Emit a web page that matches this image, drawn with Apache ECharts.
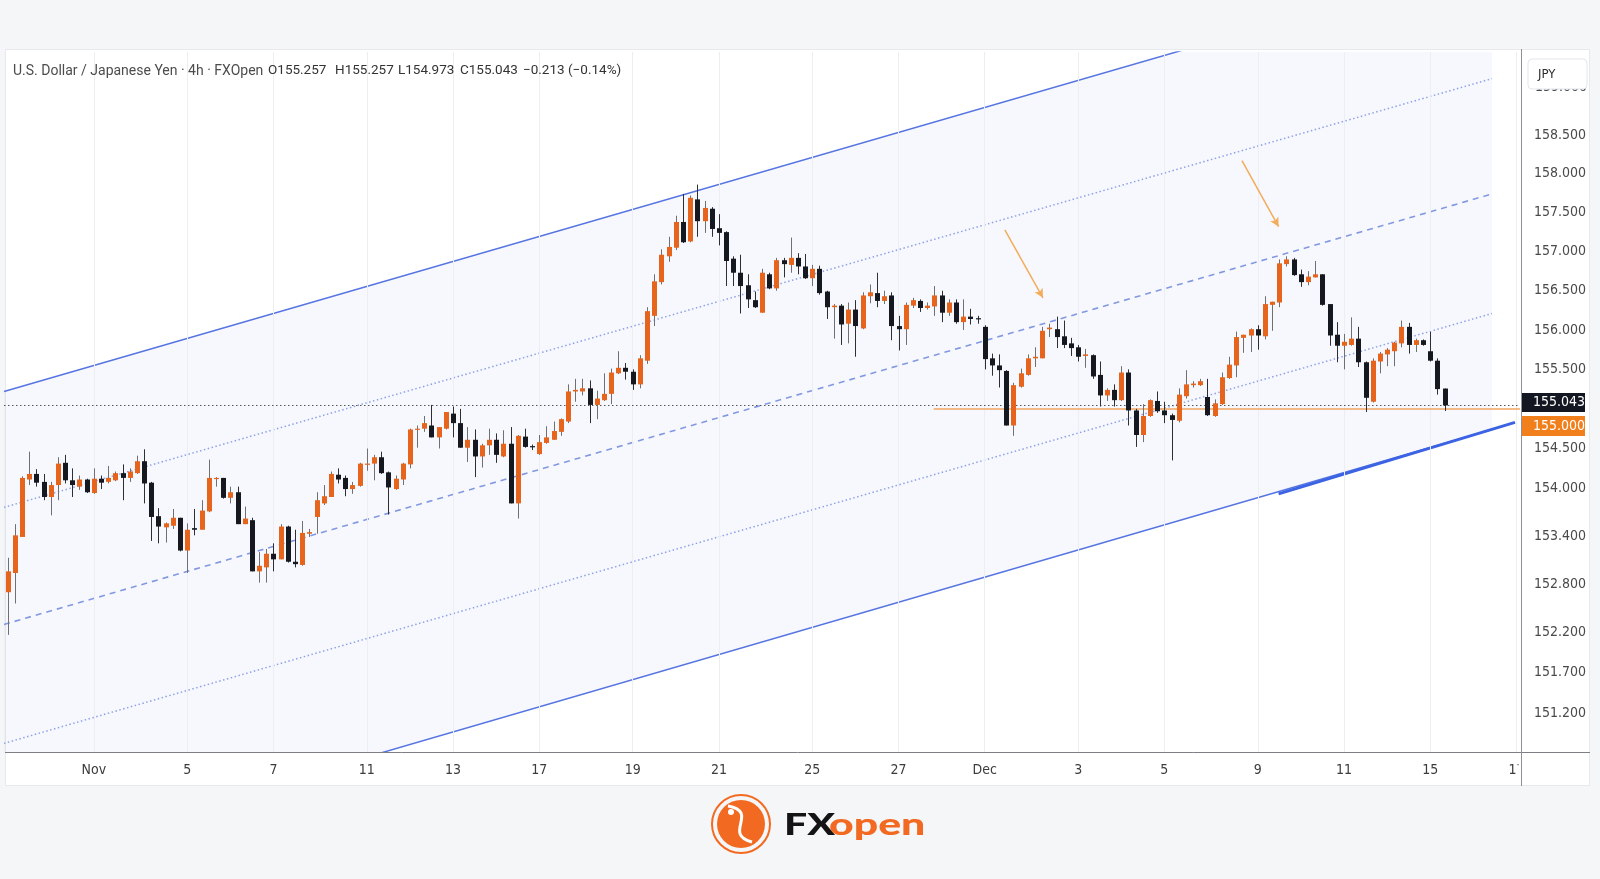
<!DOCTYPE html>
<html><head><meta charset="utf-8">
<script src="https://cdn.jsdelivr.net/npm/echarts@6/dist/echarts.min.js"></script>
<style>
html,body{margin:0;padding:0;width:1600px;height:879px;background:#f5f6f8;overflow:hidden}
#panel{position:absolute;left:5px;top:49px;width:1585px;height:737px;background:#fff;border:1px solid #e7e9ee;box-sizing:border-box}
#chart{position:absolute;left:0;top:0;width:1600px;height:879px}
</style></head><body>
<div id="panel"></div>
<div id="chart"></div>
<script>
// ---------- DATA (USD/JPY, 4h candles) ----------
const opens = [152.70,152.94,153.39,154.11,154.18,154.08,153.89,154.04,154.32,154.10,
154.02,154.11,153.94,154.12,154.08,154.10,154.19,154.13,154.19,154.34,
154.07,153.65,153.51,153.53,153.63,153.22,153.50,153.48,153.71,154.12,
154.13,153.88,153.95,153.55,153.60,152.96,153.01,153.18,153.11,153.52,
153.08,153.04,153.43,153.64,153.81,153.89,154.17,154.13,153.99,154.03,
154.30,154.31,154.39,154.20,153.99,154.11,154.30,154.74,154.75,154.79,
154.64,154.75,154.94,154.82,154.51,154.61,154.40,154.54,154.61,154.40,
154.56,153.81,154.65,154.53,154.43,154.57,154.61,154.71,154.84,155.22,
155.22,155.26,155.05,155.11,155.19,155.45,155.52,155.47,155.31,155.61,
156.18,156.61,156.94,157.05,157.38,157.13,157.67,157.39,157.55,157.30,
157.25,156.91,156.73,156.57,156.38,156.22,156.71,156.53,156.89,156.83,
156.92,156.81,156.66,156.78,156.49,156.29,156.31,156.08,156.26,156.02,
156.43,156.47,156.37,156.44,156.05,156.01,156.31,156.37,156.28,156.30,
156.44,156.22,156.35,156.10,156.17,156.15,156.04,155.64,155.55,155.48,
154.79,155.28,155.43,155.64,155.64,156.01,156.01,155.92,155.83,155.78,
155.67,155.68,155.43,155.17,155.24,155.11,155.46,154.98,154.67,154.91,
155.10,154.98,154.92,154.85,155.16,155.30,155.30,155.15,154.91,155.06,
155.39,155.55,155.90,155.93,156.01,155.92,156.32,156.35,156.84,156.90,
156.71,156.61,156.67,156.71,156.33,155.94,155.80,155.81,155.89,155.59,
155.09,155.60,155.69,155.73,155.83,156.04,155.81,155.87,155.73,155.61,
155.257];
const highs = [153.13,153.55,154.15,154.46,154.24,154.18,154.08,154.39,154.42,154.25,
154.16,154.12,154.25,154.16,154.28,154.21,154.30,154.25,154.41,154.49,
154.08,153.75,153.57,153.74,153.63,153.56,153.74,153.85,154.36,154.14,
154.13,154.02,154.02,153.77,153.63,153.20,153.24,153.31,153.55,153.53,
153.48,153.59,153.49,153.95,154.04,154.21,154.25,154.16,154.08,154.32,
154.50,154.42,154.46,154.21,154.16,154.32,154.75,154.79,154.91,155.05,
154.77,154.96,155.03,155.00,154.77,154.74,154.56,154.75,154.69,154.73,
154.77,154.67,154.75,154.55,154.67,154.78,154.84,154.88,155.31,155.38,
155.38,155.36,155.23,155.45,155.51,155.73,155.58,155.50,155.68,156.29,
156.71,157.03,157.19,157.46,157.74,157.72,157.86,157.65,157.57,157.48,
157.26,156.94,156.96,156.71,156.49,156.78,156.73,156.92,156.92,157.18,
156.98,156.97,156.83,156.82,156.50,156.33,156.33,156.35,156.38,156.48,
156.58,156.73,156.50,156.48,156.18,156.35,156.41,156.39,156.35,156.56,
156.50,156.39,156.39,156.39,156.27,156.18,156.06,155.70,155.69,155.49,
155.33,155.51,155.69,155.78,156.04,156.08,156.17,156.12,155.90,155.81,
155.76,155.69,155.60,155.26,155.31,155.54,155.50,155.00,155.06,155.12,
155.22,155.09,154.94,155.26,155.49,155.35,155.38,155.38,155.12,155.46,
155.66,155.98,155.94,156.02,156.06,156.43,156.36,156.90,156.94,156.92,
156.77,156.75,156.88,156.71,156.33,156.10,155.95,156.16,156.04,155.60,
155.64,155.72,155.77,155.85,156.12,156.09,155.89,155.88,155.98,155.64,
155.257];
const lows = [152.17,152.56,153.39,154.04,154.02,153.85,153.66,153.85,154.06,153.89,
153.98,153.94,153.93,153.99,154.06,154.09,153.85,154.08,154.18,153.81,
153.34,153.31,153.32,153.49,153.21,152.94,153.41,153.48,153.70,154.02,
153.87,153.81,153.55,153.55,152.96,152.82,152.82,152.96,153.11,153.07,
153.01,153.03,153.39,153.43,153.79,153.89,154.06,153.90,153.93,154.02,
154.22,154.10,154.18,153.67,153.98,154.04,154.25,154.51,154.71,154.64,
154.50,154.74,154.64,154.51,154.33,154.14,154.26,154.42,154.32,154.39,
153.81,153.62,154.51,154.48,154.42,154.56,154.61,154.66,154.82,155.09,
155.17,154.82,154.87,155.10,155.06,155.44,155.37,155.24,155.26,155.57,
156.05,156.58,156.87,157.02,157.11,157.12,157.19,157.24,157.19,157.08,
156.56,156.56,156.21,156.28,156.28,156.22,156.52,156.50,156.67,156.73,
156.71,156.65,156.56,156.45,156.14,155.89,155.81,155.83,155.66,156.01,
156.34,156.29,156.33,155.87,155.74,155.81,156.28,156.23,156.26,156.18,
156.10,156.18,156.08,156.00,156.07,156.08,155.50,155.42,155.27,154.79,
154.66,155.27,155.42,155.53,155.64,155.91,155.77,155.77,155.67,155.60,
155.52,155.38,155.03,155.10,155.03,155.10,154.79,154.52,154.58,154.90,
154.95,154.82,154.35,154.83,155.13,155.27,155.29,154.91,154.90,155.05,
155.38,155.40,155.71,155.72,155.75,155.88,155.99,156.29,156.81,156.69,
156.55,156.57,156.67,156.31,155.80,155.59,155.50,155.80,155.53,154.96,
155.08,155.45,155.54,155.54,155.78,155.70,155.72,155.80,155.60,155.18,
154.973];
const closes = [152.96,153.41,154.13,154.18,154.07,153.89,154.04,154.31,154.10,154.04,
154.11,153.95,154.12,154.07,154.13,154.19,154.13,154.21,154.34,154.06,
153.64,153.52,153.56,153.63,153.22,153.48,153.48,153.72,154.13,154.13,
153.88,153.95,153.55,153.62,152.96,153.03,153.18,153.11,153.52,153.08,
153.05,153.44,153.45,153.85,153.90,154.18,154.11,153.99,154.04,154.31,
154.31,154.39,154.19,154.01,154.12,154.31,154.74,154.75,154.82,154.64,
154.77,154.96,154.82,154.51,154.61,154.40,154.54,154.61,154.42,154.56,
153.81,154.66,154.52,154.52,154.58,154.64,154.72,154.87,155.22,155.24,
155.26,155.05,155.13,155.19,155.46,155.52,155.47,155.31,155.64,156.24,
156.62,156.96,157.06,157.38,157.12,157.69,157.39,157.56,157.29,157.24,
156.88,156.73,156.56,156.39,156.29,156.73,156.53,156.89,156.84,156.92,
156.81,156.66,156.78,156.47,156.29,156.31,156.07,156.26,156.05,156.44,
156.48,156.37,156.43,156.05,156.01,156.32,156.38,156.28,156.31,156.44,
156.22,156.35,156.10,156.17,156.14,156.14,155.63,155.55,155.49,154.79,
155.30,155.45,155.64,155.66,155.99,156.03,155.91,155.81,155.77,155.66,
155.69,155.41,155.17,155.24,155.11,155.46,154.98,154.67,154.91,155.11,
154.97,154.92,154.86,155.18,155.31,155.32,155.35,154.92,155.07,155.40,
155.56,155.91,155.94,156.01,155.93,156.33,156.36,156.85,156.90,156.70,
156.61,156.68,156.71,156.32,155.93,155.80,155.85,155.89,155.59,155.14,
155.61,155.70,155.75,155.84,156.04,155.81,155.87,155.81,155.61,155.25,
155.043];

const slotCount = 211;                       // bar slots on the time axis (incl. right margin)
const tickIndex = [12,25,37,50,62,74,87,99,112,124,136,149,161,174,186,198,210];
const tickText  = ['Nov','5','7','11','13','17','19','21','25','27','Dec','3','5','9','11','15','17'];
const priceTicks = [158.5,158,157.5,157,156.5,156,155.5,154.5,154,153.4,152.8,152.2,151.7,151.2];
const topClippedTick = 159;
const lastPrice = 155.043;
const supportLevel = 155.000;
const supportFrom = 128.9;                   // bar index where the orange level starts

// regression channel lines: [barIndex, price]
const upperBand     = [[-0.5,155.22],[206.6,160.77]];
const upperMidBand  = [[-0.5,153.76],[206.6,159.23]];
const midLine       = [[-0.5,152.30],[206.6,157.74]];
const lowerMidBand  = [[-0.5,150.83],[206.6,156.21]];
const lowerBand     = [[-0.5,149.37],[206.6,154.74]];
const trendSupport  = [[176.9,153.93],[209.8,154.83]];
const arrowA = [[138.8,157.28],[144.1,156.41]];
const arrowB = [[171.8,158.17],[176.9,157.32]];

const headerTokens = ['U.S. Dollar / Japanese Yen · 4h · FXOpen','O155.257','H155.257','L154.973','C155.043','\u22120.213 (\u22120.14%)'];

// ---------- CHART ----------
const NARROW = "'Liberation Sans Narrow','DejaVu Sans Condensed',Roboto,sans-serif";
const categories = Array.from({length: slotCount}, () => '');
tickIndex.forEach((ix, k) => { categories[ix] = tickText[k]; });
const candleData = opens.map((o, i) => [i, o, closes[i], lows[i], highs[i]]);

function clipPolygon(pts, r) {
  const L = r.x, R = r.x + r.width, T = r.y, B = r.y + r.height;
  const edges = [
    [p => p[0] >= L, (a, b) => { const t = (L - a[0]) / (b[0] - a[0]); return [L, a[1] + t * (b[1] - a[1])]; }],
    [p => p[0] <= R, (a, b) => { const t = (R - a[0]) / (b[0] - a[0]); return [R, a[1] + t * (b[1] - a[1])]; }],
    [p => p[1] >= T, (a, b) => { const t = (T - a[1]) / (b[1] - a[1]); return [a[0] + t * (b[0] - a[0]), T]; }],
    [p => p[1] <= B, (a, b) => { const t = (B - a[1]) / (b[1] - a[1]); return [a[0] + t * (b[0] - a[0]), B]; }]
  ];
  let out = pts;
  for (const [inside, inter] of edges) {
    const inp = out; out = [];
    for (let k = 0; k < inp.length; k++) {
      const cur = inp[k], prev = inp[(k + inp.length - 1) % inp.length];
      if (inside(cur)) { if (!inside(prev)) out.push(inter(prev, cur)); out.push(cur); }
      else if (inside(prev)) out.push(inter(prev, cur));
    }
  }
  return out;
}

const chart = echarts.init(document.getElementById('chart'), null, {width: 1600, height: 879});
const bandLine = (data, color, type, width) => ({
  type: 'line', xAxisIndex: 1, yAxisIndex: 0, data, symbol: 'none', silent: true, z: 2,
  lineStyle: {color, type, width}
});

const option = {
  animation: false,
  backgroundColor: 'transparent',
  grid: {left: 4, top: 52, width: 1516, height: 700},
  xAxis: [
    {type: 'category', data: categories, boundaryGap: true,
     axisLine: {show: false}, axisTick: {show: false}, splitLine: {show: false},
     axisLabel: {interval: (i, v) => v !== '', color: '#3c3c3c', fontSize: 14, fontFamily: NARROW, margin: 11}},
    {type: 'value', min: -0.5, max: slotCount - 0.5, show: false}
  ],
  yAxis: {
    type: 'log', logBase: 10, position: 'right', min: 150.724, max: 159.576,
    axisLine: {show: false}, axisTick: {show: false}, splitLine: {show: false},
    axisLabel: {customValues: priceTicks, formatter: v => Number(v).toFixed(3),
      color: '#4a4a4a', fontSize: 14, fontFamily: NARROW, margin: 14, align: 'left'}
  },
  series: [
    // channel fill
    {type: 'custom', xAxisIndex: 1, yAxisIndex: 0, silent: true, z: 1,
     data: [[0, 155]], encode: {x: 0, y: 1},
     renderItem: (params, api) => {
       const pts = [api.coord(upperBand[0]), api.coord(upperBand[1]), api.coord(lowerBand[1]), api.coord(lowerBand[0])];
       return {type: 'polygon', shape: {points: clipPolygon(pts, params.coordSys)}, style: {fill: 'rgba(60,90,200,0.045)'}};
     }},
    // vertical grid lines at date ticks
    {type: 'line', xAxisIndex: 1, yAxisIndex: 0, data: [], symbol: 'none', silent: true, z: 1,
     markLine: {silent: true, symbol: ['none', 'none'], label: {show: false},
       lineStyle: {color: '#eceef2', width: 1, type: 'solid'},
       data: tickIndex.map(ix => ({xAxis: ix}))}},
    bandLine(upperBand, '#5675e2', 'solid', 1.5),
    bandLine(upperMidBand, '#8ea2e6', [1.5, 2.5], 1.5),
    bandLine(midLine, '#8299e2', [6, 5], 1.6),
    bandLine(lowerMidBand, '#8ea2e6', [1.5, 2.5], 1.5),
    bandLine(lowerBand, '#5675e2', 'solid', 1.5),
    bandLine(trendSupport, '#3b63e3', 'solid', 3),
    // price levels
    {type: 'line', xAxisIndex: 1, yAxisIndex: 0, data: [], symbol: 'none', silent: true, z: 3,
     markLine: {silent: true, symbol: ['none', 'none'], label: {show: false},
       data: [
         {yAxis: lastPrice, lineStyle: {color: '#555', width: 1, type: [1.5, 2.5]}},
         [{coord: [supportFrom, supportLevel], lineStyle: {color: '#f2a460', width: 1.6, type: 'solid'}},
          {coord: [slotCount - 0.5, supportLevel]}]
       ]}},
    // candles
    {type: 'custom', xAxisIndex: 0, yAxisIndex: 0, z: 5, silent: true,
     data: candleData, encode: {x: 0, y: [1, 2, 3, 4]},
     renderItem: (params, api) => {
       const i = api.value(0), o = api.value(1), c = api.value(2), l = api.value(3), h = api.value(4);
       const pO = api.coord([i, o]), pC = api.coord([i, c]), pL = api.coord([i, l]), pH = api.coord([i, h]);
       const xr = Math.round(pO[0]);
       const up = c >= o;
       const top = Math.min(pO[1], pC[1]);
       const hh = Math.max(Math.abs(pO[1] - pC[1]), 1.2);
       return {type: 'group', children: [
         {type: 'line', shape: {x1: xr + 0.5, y1: pH[1], x2: xr + 0.5, y2: pL[1]},
          style: {stroke: up ? '#707070' : '#2e2e33', lineWidth: 1}},
         {type: 'rect', shape: {x: xr - 2, y: top, width: 5, height: hh},
          style: {fill: up ? '#e6641c' : '#15181f'}}
       ]};
     }},
    // arrows
    {type: 'line', xAxisIndex: 1, yAxisIndex: 0, data: [], symbol: 'none', silent: true, z: 6,
     markLine: {silent: true, symbol: ['none', 'arrow'], symbolSize: [7, 9], label: {show: false},
       lineStyle: {color: '#f3ac5a', width: 1.5, type: 'solid'},
       data: [[{coord: arrowA[0]}, {coord: arrowA[1]}], [{coord: arrowB[0]}, {coord: arrowB[1]}]]}}
  ]
};
chart.setOption(option);

// ---------- overlays positioned through the axis scale ----------
const yLast = chart.convertToPixel({yAxisIndex: 0}, lastPrice);
const headerX = [13, 268, 335, 398, 460, 523];
const g = [];
// axis frame lines
g.push({type: 'line', z: 60, shape: {x1: 5, y1: 752.5, x2: 1590, y2: 752.5}, style: {stroke: '#7d7f85', lineWidth: 1}});
g.push({type: 'rect', z: 55, shape: {x: 1518.5, y: 753, width: 70, height: 32}, style: {fill: '#fff'}});
g.push({type: 'line', z: 60, shape: {x1: 1521.5, y1: 49, x2: 1521.5, y2: 786}, style: {stroke: '#8d9098', lineWidth: 1}});
// partially hidden top label + currency box
g.push({type: 'text', z: 50, x: 1535, y: 87, style: {text: topClippedTick.toFixed(3), fill: '#4a4a4a', font: '14px ' + NARROW, verticalAlign: 'middle'}});
g.push({type: 'rect', z: 70, shape: {x: 1528, y: 59, width: 59, height: 30, r: 4}, style: {fill: '#fff', stroke: '#e3e5ea', lineWidth: 1}});
g.push({type: 'text', z: 71, x: 1538, y: 74.5, style: {text: 'JPY', fill: '#2b2b2b', font: '13px ' + NARROW, verticalAlign: 'middle'}});
// price tags
g.push({type: 'rect', z: 70, shape: {x: 1522, y: yLast - 3 - 9.5, width: 63, height: 19}, style: {fill: '#131722'}});
g.push({type: 'text', z: 71, x: 1533, y: yLast - 3, style: {text: lastPrice.toFixed(3), fill: '#fff', font: '14px ' + NARROW, verticalAlign: 'middle'}});
g.push({type: 'rect', z: 70, shape: {x: 1522, y: yLast + 20.5 - 10, width: 63, height: 20}, style: {fill: '#f07f1c'}});
g.push({type: 'text', z: 71, x: 1533, y: yLast + 20.5, style: {text: supportLevel.toFixed(3), fill: '#fff', font: '14px ' + NARROW, verticalAlign: 'middle'}});
// header
headerTokens.forEach((t, k) => {
  g.push({type: 'text', z: 80, x: headerX[k], y: 71, style: {text: t, fill: k === 0 ? '#4d4d4d' : '#333', font: (k === 0 ? '14px' : '13.5px') + ' Roboto', verticalAlign: 'middle'}});
});
// logo
g.push({type: 'circle', z: 80, shape: {cx: 741, cy: 824, r: 29}, style: {fill: 'none', stroke: '#f26a21', lineWidth: 2}});
g.push({type: 'circle', z: 80, shape: {cx: 741, cy: 824, r: 24}, style: {fill: '#f26a21'}});
g.push({type: 'bezierCurve', z: 81, shape: {x1: 728, y1: 806, x2: 752, y2: 842, cpx1: 760, cpy1: 812, cpx2: 722, cpy2: 834}, style: {stroke: '#fff', lineWidth: 3, fill: 'none'}});
g.push({type: 'circle', z: 81, shape: {cx: 731, cy: 812, r: 3}, style: {fill: '#fff'}});
g.push({type: 'text', z: 80, x: 784, y: 825, scaleX: 1.32, style: {text: 'FX', fill: '#141414', font: '900 31px Lato', verticalAlign: 'middle'}});
g.push({type: 'text', z: 80, x: 829, y: 825, scaleX: 1.38, style: {text: 'open', fill: '#f26a21', font: '900 31px Lato', verticalAlign: 'middle'}});
chart.setOption({graphic: g});
</script>
</body></html>
